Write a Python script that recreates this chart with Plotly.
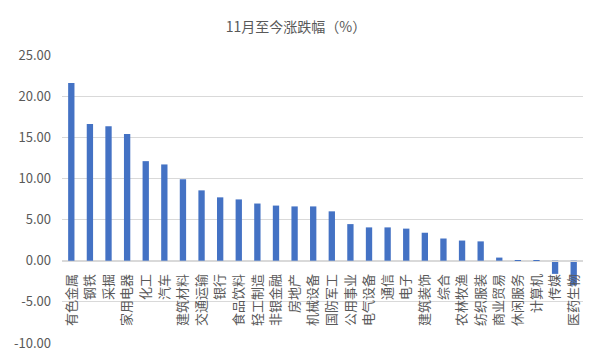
import plotly.graph_objects as go

categories = ["有色金属", "钢铁", "采掘", "家用电器", "化工", "汽车", "建筑材料", "交通运输", "银行",
              "食品饮料", "轻工制造", "非银金融", "房地产", "机械设备", "国防军工", "公用事业", "电气设备",
              "通信", "电子", "建筑装饰", "综合", "农林牧渔", "纺织服装", "商业贸易", "休闲服务", "计算机",
              "传媒", "医药生物"]
values = [21.6, 16.6, 16.35, 15.4, 12.1, 11.7, 9.9, 8.55, 7.7, 7.45, 6.95, 6.7, 6.6, 6.6,
          6.0, 4.45, 4.05, 4.05, 3.9, 3.4, 2.7, 2.45, 2.35, 0.38, -0.1, -0.15, -1.6, -3.0]
y_ticks = [-10, -5, 0, 5, 10, 15, 20, 25]
title_text = "11月至今涨跌幅（%）"

font_family = "Noto Sans CJK SC, Noto Sans, sans-serif"
grey = "#595959"

W, H = 586, 346
fig = go.Figure()
fig.add_trace(go.Bar(x=categories, y=values, marker=dict(color="#4472C4", line=dict(width=0)),
                     hoverinfo="x+y"))

y_min, y_max = -10, 25
fig.update_layout(
    width=W, height=H,
    margin=dict(l=54, r=11, t=47, b=11, autoexpand=False),
    paper_bgcolor="white", plot_bgcolor="white",
    bargap=0.66,
    showlegend=False,
    title=dict(text=title_text, x=288 / W, xref="container", xanchor="center",
               y=1 - 19 / H, yref="container", yanchor="middle",
               font=dict(family=font_family, size=14, color=grey)),
    font=dict(family=font_family, color=grey),
    xaxis=dict(
        anchor="free", position=(0 - y_min) / (y_max - y_min), automargin=False,
        tickangle=-90, tickfont=dict(size=13, color=grey, family=font_family),
        showline=True, linecolor="#d9d9d9", linewidth=1,
        showgrid=False, ticks="", ticklabelstandoff=7,
    ),
    yaxis=dict(
        range=[y_min, y_max], tickvals=y_ticks, automargin=False,
        ticktext=[f"{v:.2f}" for v in y_ticks],
        tickfont=dict(size=13, color=grey, family=font_family),
        showgrid=True, gridcolor="#d9d9d9", gridwidth=1,
        zeroline=False, showline=False, ticks="", ticklabelstandoff=10,
    ),
)

fig.write_html("out.html")
